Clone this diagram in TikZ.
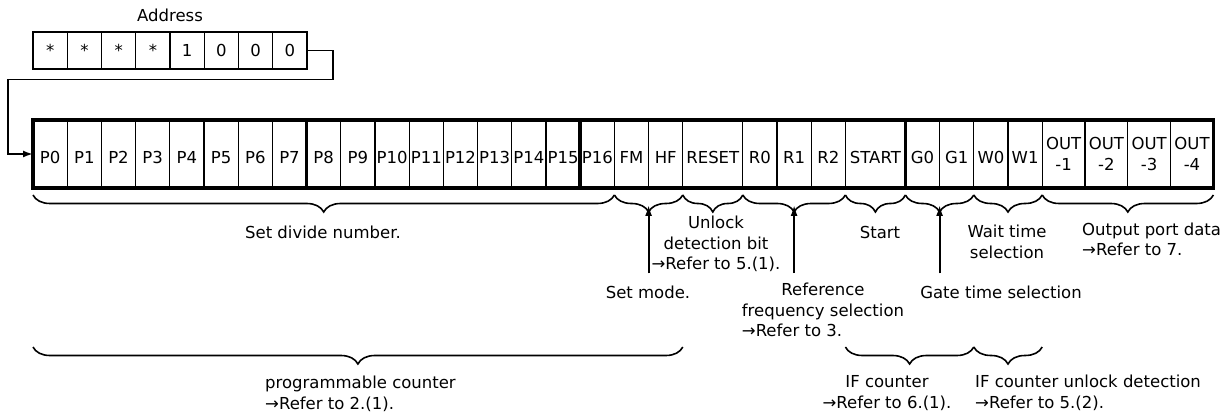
\documentclass[tikz,border=0pt]{standalone}
\usepackage{fontspec}
\setmainfont{DejaVu Sans}
\usetikzlibrary{arrows.meta, positioning, calc, decorations.pathreplacing}

\begin{document}
\begin{tikzpicture}[
  x=1pt, y=-1pt,
  font=\fontsize{16.5}{20.5}\selectfont,
  cell/.style={draw, line width=1.3pt, minimum height=68pt, inner sep=0pt,
               outer sep=0pt, align=center},
  bit/.style={cell, text height=19pt, text depth=0pt},
  adr/.style={draw, line width=1.4pt, minimum width=34.25pt, minimum height=37pt,
              inner sep=0pt, outer sep=0pt},
  frame/.style={line width=3.5pt},
  lbl/.style={inner sep=2pt},
  brc/.style={decorate, decoration={brace, mirror, amplitude=17pt}, line width=1.6pt},
  arr/.style={-{Latex[length=11pt, width=7pt]}, line width=1.8pt},
  link/.style={-{Latex[length=10pt, width=7pt]}, line width=1.8pt}
]
\useasboundingbox (0,0) rectangle (1228,419);

\node[lbl] (adrlbl) at (170,15) {Address};
\coordinate (adrstart) at (33,50.5);
\foreach \n/\t [remember=\n as \prev (initially adrstart)] in
  {a0/*, a1/*, a2/*, a3/*, a4/1, a5/0, a6/0, a7/0}
  \node[adr, right=0pt of \prev] (\n) {\t};

\coordinate (rowstart) at (33,154);
\foreach \n/\t/\w [remember=\n as \prev (initially rowstart)] in
  {p0/P0/34.2, p1/P1/34.2, p2/P2/34.2, p3/P3/34.2, p4/P4/34.2, p5/P5/34.2,
   p6/P6/34.2, p7/P7/34.2, p8/P8/34.2, p9/P9/34.2, p10/P10/34.2, p11/P11/34.2,
   p12/P12/34.2, p13/P13/34.2, p14/P14/34.2, p15/P15/34.2, p16/P16/34.2,
   fm/FM/34.2, hf/HF/34.2, reset/RESET/60, r0/R0/34.2, r1/R1/34.2, r2/R2/34.2,
   start/START/60, g0/G0/34.2, g1/G1/34.2, w0/W0/34.2, w1/W1/34.2}
  \node[bit, minimum width=\w, right=0pt of \prev] (\n) {\t};
\foreach \n/\t [remember=\n as \prev (initially w1)] in
  {out1/-1, out2/-2, out3/-3, out4/-4}
  \node[cell, minimum width=42.8, right=0pt of \prev] (\n) {OUT\\\t};
\foreach \n in {p7,p15,start}
  \draw[frame] (\n.north east) -- (\n.south east);
\draw[frame] (p0.north west) rectangle (out4.south east);

\draw[link] (a7.east) -- ++(26,0) -- ++(0,29) -- ++(-325,0) |- (p0.west);

\foreach \a/\b in {p0/p16, fm/hf, reset/reset, r0/r2, start/start, g0/g1, w0/w1, out1/out4}
  \draw[brc] ([yshift=-7pt]\a.south west) -- ([yshift=-7pt]\b.south east);
\foreach \a/\b in {p0/hf, start/g1, w0/w1}
  \draw[brc] ([yshift=-159pt]\a.south west) -- ([yshift=-159pt]\b.south east);

\coordinate (modetip) at ($(fm.south east)+(0,17)$);
\coordinate (reftip) at ($(r1.south)+(0,17)$);
\coordinate (gatetip) at ($(g0.south east)+(0,17)$);

\node[lbl] (divlbl) at (323,232) {Set divide number.};
\node[lbl, align=center] (unlklbl) at (716,244) {Unlock\\detection bit\\→Refer to 5.(1).};
\node[lbl] (startlbl) at (880,232) {Start};
\node[lbl, align=center] (waitlbl) at (1007,242) {Wait time\\selection};
\node[lbl, align=left, anchor=west] (outlbl) at (1080,239.5) {Output port data\\→Refer to 7.};
\node[lbl] (modelbl) at (648,292) {Set mode.};
\node[lbl] (reflbl) at (823,312)
  {\begin{tabular}{@{}l@{}}\multicolumn{1}{@{}c@{}}{Reference}\\frequency selection\\→Refer to 3.\end{tabular}};
\node[lbl] (gatelbl) at (1001,292) {Gate time selection};

\draw[arr] ($(modelbl.north -| modetip)+(0,-10)$) -- (modetip);
\draw[arr] ($(reflbl.north -| reftip)+(0,-6)$) -- (reftip);
\draw[arr] ($(gatelbl.north -| gatetip)+(0,-10)$) -- (gatetip);

\node[lbl, align=left, anchor=west] (proglbl) at (263,394) {programmable counter\\→Refer to 2.(1).};
\node[lbl, align=center] (iflbl) at (887,393) {IF counter\\→Refer to 6.(1).};
\node[lbl, align=left, anchor=west] (ifunlbl) at (973,393) {IF counter unlock detection\\→Refer to 5.(2).};
\end{tikzpicture}
\end{document}
